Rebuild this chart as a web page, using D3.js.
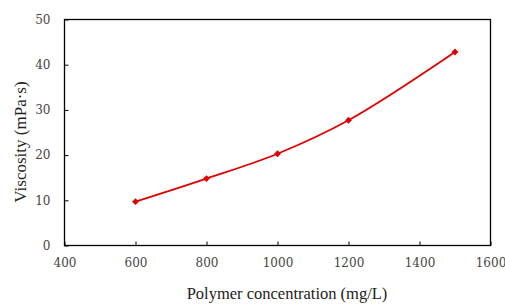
<!DOCTYPE html>
<html><head><meta charset="utf-8">
<script src="https://cdn.jsdelivr.net/npm/d3@7"></script>
<style>body{margin:0;background:#fff}svg{display:block}</style>
</head><body>
<svg id="c" width="505" height="304"></svg>
<script>
const concentration = [600, 800, 1000, 1200, 1500];
const viscosity = [9.7, 14.8, 20.3, 27.7, 42.8];
const xTicks = [400, 600, 800, 1000, 1200, 1400, 1600];
const yTicks = [0, 10, 20, 30, 40, 50];

const svg = d3.select("#c");
const L = 64.5, R = 490.5, T = 19.5, B = 245.5;
const x = d3.scaleLinear().domain([400, 1600]).range([L, R]);
const y = d3.scaleLinear().domain([0, 50]).range([B, T]);
const font = "'Liberation Serif', 'Times New Roman', serif";
const tfont = "'DejaVu Serif', serif";

svg.append("rect").attr("x", L).attr("y", T).attr("width", R - L).attr("height", B - T)
  .attr("fill", "none").attr("stroke", "#000").attr("stroke-width", 1.3);

const xa = svg.append("g").attr("transform", `translate(0,${B})`)
  .call(d3.axisBottom(x).tickValues(xTicks).tickSizeInner(-4).tickSizeOuter(0).tickPadding(13).tickFormat(d3.format("d")));
const ya = svg.append("g").attr("transform", `translate(${L},0)`)
  .call(d3.axisLeft(y).tickValues(yTicks).tickSizeInner(-4).tickSizeOuter(0).tickPadding(14));
[xa, ya].forEach(a => {
  a.select(".domain").remove();
  a.selectAll("line").attr("stroke", "#000");
  a.selectAll("text").attr("font-family", tfont).attr("font-size", 12).attr("fill", "#444");
});

const line = d3.line().x((d, i) => x(concentration[i])).y(d => y(d)).curve(d3.curveCatmullRom.alpha(0.5));
svg.append("path").datum(viscosity).attr("d", line).attr("fill", "none")
  .attr("stroke", "#e00000").attr("stroke-width", 1.8);

svg.selectAll(".m").data(viscosity).enter().append("path")
  .attr("transform", (d, i) => `translate(${x(concentration[i])},${y(d)})`)
  .attr("d", d3.symbol(d3.symbolDiamond2, 30)).attr("fill", "#e00000");

svg.append("text").attr("x", 287).attr("y", 299).attr("text-anchor", "middle")
  .attr("font-family", font).attr("font-size", 16.5).attr("fill", "#222").text("Polymer concentration (mg/L)");
svg.append("text").attr("transform", `translate(26,${142}) rotate(-90)`).attr("text-anchor", "middle")
  .attr("font-family", font).attr("font-size", 17).attr("fill", "#222").text("Viscosity (mPa·s)");
</script>
</body></html>
